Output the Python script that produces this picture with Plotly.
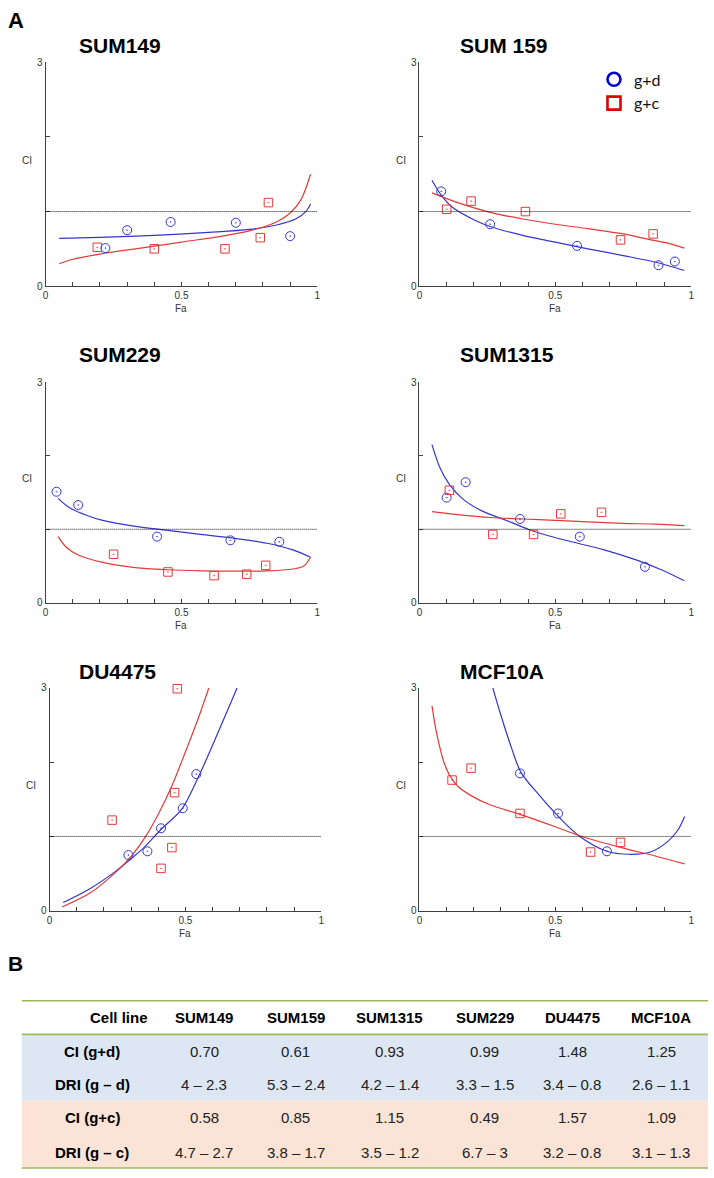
import plotly.graph_objects as go

# ---------------- data ----------------
panel_titles = ["SUM149", "SUM 159", "SUM229", "SUM1315", "DU4475", "MCF10A"]

# SUM149
sum149_gd_fa = [0.22, 0.30, 0.46, 0.70, 0.90]
sum149_gd_ci = [0.51, 0.75, 0.86, 0.85, 0.67]
sum149_gc_fa = [0.19, 0.40, 0.66, 0.79, 0.82]
sum149_gc_ci = [0.52, 0.50, 0.50, 0.65, 1.12]
sum149_gd_fit_fa = [0.05, 0.2, 0.4, 0.6, 0.75, 0.85, 0.92, 0.96, 0.975]
sum149_gd_fit_ci = [0.64, 0.655, 0.68, 0.72, 0.76, 0.82, 0.90, 1.01, 1.10]
sum149_gc_fit_fa = [0.05, 0.1, 0.2, 0.35, 0.5, 0.65, 0.75, 0.85, 0.9, 0.94, 0.975]
sum149_gc_fit_ci = [0.30, 0.36, 0.43, 0.51, 0.59, 0.67, 0.74, 0.86, 0.98, 1.16, 1.50]

# SUM159
sum159_gd_fa = [0.08, 0.26, 0.58, 0.88, 0.94]
sum159_gd_ci = [1.27, 0.83, 0.54, 0.28, 0.33]
sum159_gc_fa = [0.10, 0.19, 0.39, 0.74, 0.86]
sum159_gc_ci = [1.03, 1.14, 1.00, 0.62, 0.70]
sum159_gd_fit_fa = [0.046, 0.08, 0.12, 0.2, 0.26, 0.38, 0.5, 0.62, 0.75, 0.87, 0.975]
sum159_gd_fit_ci = [1.42, 1.22, 1.06, 0.89, 0.80, 0.68, 0.59, 0.50, 0.41, 0.32, 0.21]
sum159_gc_fit_fa = [0.046, 0.14, 0.26, 0.38, 0.5, 0.62, 0.75, 0.84, 0.92, 0.975]
sum159_gc_fit_ci = [1.25, 1.12, 0.99, 0.90, 0.83, 0.77, 0.70, 0.63, 0.57, 0.51]

# SUM229
sum229_gd_fa = [0.04, 0.12, 0.41, 0.68, 0.86]
sum229_gd_ci = [1.51, 1.33, 0.90, 0.85, 0.83]
sum229_gc_fa = [0.25, 0.45, 0.62, 0.74, 0.81]
sum229_gc_ci = [0.66, 0.42, 0.37, 0.39, 0.51]
sum229_gd_fit_fa = [0.046, 0.085, 0.15, 0.21, 0.33, 0.45, 0.57, 0.69, 0.815, 0.91, 0.975]
sum229_gd_fit_ci = [1.42, 1.30, 1.19, 1.12, 1.04, 0.985, 0.93, 0.88, 0.81, 0.72, 0.62]
sum229_gc_fit_fa = [0.046, 0.075, 0.12, 0.21, 0.33, 0.45, 0.57, 0.69, 0.815, 0.91, 0.95, 0.975]
sum229_gc_fit_ci = [0.90, 0.76, 0.65, 0.55, 0.48, 0.45, 0.435, 0.43, 0.435, 0.46, 0.50, 0.62]

# SUM1315
sum1315_gd_fa = [0.10, 0.17, 0.37, 0.59, 0.83]
sum1315_gd_ci = [1.43, 1.64, 1.14, 0.90, 0.49]
sum1315_gc_fa = [0.11, 0.27, 0.42, 0.52, 0.67]
sum1315_gc_ci = [1.53, 0.93, 0.93, 1.21, 1.23]
sum1315_gd_fit_fa = [0.046, 0.075, 0.11, 0.16, 0.23, 0.32, 0.40, 0.44, 0.56, 0.68, 0.8, 0.89, 0.975]
sum1315_gd_fit_ci = [2.15, 1.84, 1.61, 1.41, 1.25, 1.12, 1.00, 0.95, 0.83, 0.72, 0.58, 0.45, 0.30]
sum1315_gc_fit_fa = [0.046, 0.14, 0.26, 0.38, 0.5, 0.62, 0.75, 0.87, 0.975]
sum1315_gc_fit_ci = [1.24, 1.20, 1.16, 1.14, 1.12, 1.10, 1.08, 1.07, 1.05]

# DU4475
du4475_gd_fa = [0.29, 0.36, 0.41, 0.49, 0.54]
du4475_gd_ci = [0.75, 0.80, 1.11, 1.38, 1.84]
du4475_gc_fa = [0.23, 0.41, 0.45, 0.46, 0.47]
du4475_gc_ci = [1.22, 0.57, 0.85, 1.59, 2.99]
du4475_gd_fit_fa = [0.05, 0.15, 0.25, 0.30, 0.35, 0.414, 0.485, 0.55, 0.62, 0.69]
du4475_gd_fit_ci = [0.11, 0.30, 0.55, 0.70, 0.86, 1.11, 1.36, 1.82, 2.40, 3.0]
du4475_gc_fit_fa = [0.046, 0.15, 0.25, 0.30, 0.35, 0.40, 0.45, 0.50, 0.55, 0.586]
du4475_gc_fit_ci = [0.05, 0.24, 0.54, 0.73, 0.98, 1.30, 1.68, 2.14, 2.62, 3.0]

# MCF10A
mcf10a_gd_fa = [0.37, 0.51, 0.69]
mcf10a_gd_ci = [1.85, 1.31, 0.80]
mcf10a_gc_fa = [0.12, 0.19, 0.37, 0.63, 0.74]
mcf10a_gc_ci = [1.76, 1.92, 1.31, 0.79, 0.92]
mcf10a_gd_fit_fa = [0.27, 0.30, 0.34, 0.374, 0.44, 0.511, 0.59, 0.69, 0.77, 0.85, 0.91, 0.95, 0.976]
mcf10a_gd_fit_ci = [3.0, 2.63, 2.18, 1.86, 1.56, 1.27, 1.0, 0.80, 0.76, 0.79, 0.92, 1.08, 1.27]
mcf10a_gc_fit_fa = [0.046, 0.06, 0.075, 0.09, 0.11, 0.14, 0.19, 0.257, 0.367, 0.5, 0.59, 0.743, 0.864, 0.976]
mcf10a_gc_fit_ci = [2.76, 2.45, 2.20, 2.00, 1.83, 1.68, 1.55, 1.43, 1.30, 1.13, 1.01, 0.85, 0.74, 0.63]

additivity_ci = 1.0
fa_tick_vals = [0.0, 0.1, 0.2, 0.3, 0.4, 0.5, 0.6, 0.7, 0.8, 0.9, 1.0]
fa_tick_text = ["0", "", "", "", "", "0.5", "", "", "", "", "1"]
ci_tick_vals = [0, 1, 2, 3]
ci_tick_text = ["0", "", "", "3"]
legend_labels = ["g+d", "g+c"]

# Table (panel B)
table_header = ["SUM149", "SUM159", "SUM1315", "SUM229", "DU4475", "MCF10A"]
table_row_labels = ["CI (g+d)", "DRI (g \u2013 d)", "CI (g+c)", "DRI (g \u2013 c)"]
ci_gd_values = ["0.70", "0.61", "0.93", "0.99", "1.48", "1.25"]
dri_gd_values = ["4 \u2013 2.3", "5.3 \u2013 2.4", "4.2 \u2013 1.4", "3.3 \u2013 1.5", "3.4 \u2013 0.8", "2.6 \u2013 1.1"]
ci_gc_values = ["0.58", "0.85", "1.15", "0.49", "1.57", "1.09"]
dri_gc_values = ["4.7 \u2013 2.7", "3.8 \u2013 1.7", "3.5 \u2013 1.2", "6.7 \u2013 3", "3.2 \u2013 0.8", "3.1 \u2013 1.3"]

# ---------------- styling / layout ----------------
W, H = 714, 1178
BLUE = "#3535cc"
RED = "#e23a3a"
AXIS = "#404040"
FONT = "Arial, Liberation Sans, sans-serif"


def px(x):
    return x / W


def py(y):
    return 1 - y / H


panels = [
    (sum149_gd_fa, sum149_gd_ci, sum149_gc_fa, sum149_gc_ci,
     sum149_gd_fit_fa, sum149_gd_fit_ci, sum149_gc_fit_fa, sum149_gc_fit_ci),
    (sum159_gd_fa, sum159_gd_ci, sum159_gc_fa, sum159_gc_ci,
     sum159_gd_fit_fa, sum159_gd_fit_ci, sum159_gc_fit_fa, sum159_gc_fit_ci),
    (sum229_gd_fa, sum229_gd_ci, sum229_gc_fa, sum229_gc_ci,
     sum229_gd_fit_fa, sum229_gd_fit_ci, sum229_gc_fit_fa, sum229_gc_fit_ci),
    (sum1315_gd_fa, sum1315_gd_ci, sum1315_gc_fa, sum1315_gc_ci,
     sum1315_gd_fit_fa, sum1315_gd_fit_ci, sum1315_gc_fit_fa, sum1315_gc_fit_ci),
    (du4475_gd_fa, du4475_gd_ci, du4475_gc_fa, du4475_gc_ci,
     du4475_gd_fit_fa, du4475_gd_fit_ci, du4475_gc_fit_fa, du4475_gc_fit_ci),
    (mcf10a_gd_fa, mcf10a_gd_ci, mcf10a_gc_fa, mcf10a_gc_ci,
     mcf10a_gd_fit_fa, mcf10a_gd_fit_ci, mcf10a_gc_fit_fa, mcf10a_gc_fit_ci),
]

# pixel boxes of each plotting area: (left, right, top, bottom)
boxes = [
    (43, 317, 57, 283), (420, 694, 57, 283),
    (43, 317, 380, 603), (420, 694, 380, 603),
    (47, 321, 689, 914), (420, 694, 689, 914),
]
title_pos = [(75, 40), (459, 40), (75, 352), (459, 352), (75, 672), (459, 672)]

fig = go.Figure()
layout = dict(
    width=W, height=H, autosize=False,
    margin=dict(l=0, r=0, t=0, b=0),
    paper_bgcolor="white", plot_bgcolor="white",
    font=dict(family=FONT, color="#222"),
    showlegend=True,
    legend=dict(x=px(596), y=py(57), xanchor="left", yanchor="top",
                bgcolor="rgba(0,0,0,0)", font=dict(family="Lato, Open Sans, sans-serif", size=16, color="#111"),
                tracegroupgap=0, itemwidth=30),
)
shapes = []
annotations = []

for i, (data, box) in enumerate(zip(panels, boxes)):
    n = i + 1
    xa = "x" if n == 1 else f"x{n}"
    ya = "y" if n == 1 else f"y{n}"
    gd_fa, gd_ci, gc_fa, gc_ci, gdf_fa, gdf_ci, gcf_fa, gcf_ci = data
    l, r, t, b = box
    layout[f"xaxis{n}" if n > 1 else "xaxis"] = dict(
        domain=[px(l), px(r)], anchor=ya, range=[0, 1], showgrid=False, zeroline=False,
        showline=True, linecolor=AXIS, linewidth=1, ticks="inside", ticklen=4,
        tickcolor=AXIS, tickvals=fa_tick_vals, ticktext=fa_tick_text,
        tickfont=dict(family=FONT, size=10, color="#333"), fixedrange=True)
    layout[f"yaxis{n}" if n > 1 else "yaxis"] = dict(
        domain=[py(b), py(t)], anchor=xa, range=[0, 3], showgrid=False, zeroline=False,
        showline=True, linecolor=AXIS, linewidth=1, ticks="inside", ticklen=4,
        tickcolor=AXIS, tickvals=ci_tick_vals, ticktext=ci_tick_text,
        tickfont=dict(family=FONT, size=10, color="#333"), fixedrange=True)

    fig.add_trace(go.Scatter(x=gdf_fa, y=gdf_ci, mode="lines", line=dict(color=BLUE, width=1.2, shape="spline", smoothing=0.9),
                             xaxis=xa, yaxis=ya, showlegend=False, hoverinfo="skip"))
    fig.add_trace(go.Scatter(x=gcf_fa, y=gcf_ci, mode="lines", line=dict(color=RED, width=1.2, shape="spline", smoothing=0.9),
                             xaxis=xa, yaxis=ya, showlegend=False, hoverinfo="skip"))
    fig.add_trace(go.Scatter(x=gd_fa, y=gd_ci, mode="markers", cliponaxis=False,
                             marker=dict(symbol="circle-open-dot", size=9, color=BLUE, line=dict(width=1, color=BLUE)),
                             xaxis=xa, yaxis=ya, showlegend=False))
    fig.add_trace(go.Scatter(x=gc_fa, y=gc_ci, mode="markers", cliponaxis=False,
                             marker=dict(symbol="square-open-dot", size=8.5, color=RED, line=dict(width=1, color=RED)),
                             xaxis=xa, yaxis=ya, showlegend=False))

    shapes.append(dict(type="line", xref=xa, yref=ya, x0=0, x1=1, y0=additivity_ci, y1=additivity_ci,
                       line=dict(color="#111", width=1, dash="1px,1px")))

    tx, ty = title_pos[i]
    annotations.append(dict(text=f"<b>{panel_titles[i]}</b>", x=px(tx), y=py(ty), xref="paper", yref="paper",
                            xanchor="left", yanchor="middle", showarrow=False,
                            font=dict(family=FONT, size=21, color="black")))
    annotations.append(dict(text="CI", x=px(l - 19), y=py((t + b) / 2 - 14), xref="paper", yref="paper",
                            xanchor="center", yanchor="middle", showarrow=False,
                            font=dict(family=FONT, size=10, color="#333")))
    annotations.append(dict(text="Fa", x=px((l + r) / 2), y=py(b + 23), xref="paper", yref="paper",
                            xanchor="center", yanchor="middle", showarrow=False,
                            font=dict(family=FONT, size=10, color="#333")))

# legend (panel SUM 159)
fig.add_trace(go.Scatter(x=[None], y=[None], mode="markers", name=legend_labels[0],
                         marker=dict(symbol="circle-open", size=13, color="#0000cc", line=dict(width=2.6, color="#0000cc")),
                         xaxis="x2", yaxis="y2"))
fig.add_trace(go.Scatter(x=[None], y=[None], mode="markers", name=legend_labels[1],
                         marker=dict(symbol="square-open", size=13, color="#dd0000", line=dict(width=2.6, color="#dd0000")),
                         xaxis="x2", yaxis="y2"))

# panel letters
annotations.append(dict(text="<b>A</b>", x=px(3), y=py(15), xref="paper", yref="paper", xanchor="left",
                        yanchor="middle", showarrow=False, font=dict(family=FONT, size=22, color="black")))
annotations.append(dict(text="<b>B</b>", x=px(3), y=py(967), xref="paper", yref="paper", xanchor="left",
                        yanchor="middle", showarrow=False, font=dict(family=FONT, size=21, color="black")))

# ---------------- table B ----------------
tbl_left, tbl_right = 19, 711
line_top, line_head, fill_split, line_bottom = 1005, 1039, 1106, 1174
GREEN = "#9bbb59"
shapes.append(dict(type="rect", xref="paper", yref="paper", x0=px(tbl_left), x1=px(tbl_right),
                   y0=py(fill_split), y1=py(line_head), fillcolor="#dce7f3", line=dict(width=0), layer="below"))
shapes.append(dict(type="rect", xref="paper", yref="paper", x0=px(tbl_left), x1=px(tbl_right),
                   y0=py(line_bottom), y1=py(fill_split), fillcolor="#fbe3d6", line=dict(width=0), layer="below"))
for yl in (line_top, line_head, line_bottom):
    shapes.append(dict(type="line", xref="paper", yref="paper", x0=px(tbl_left), x1=px(tbl_right),
                       y0=py(yl), y1=py(yl), line=dict(color=GREEN, width=1.6)))

col_x = [203, 295, 390, 486, 574, 664]
label_x = 90
header_y = 1022
row_y = [1056, 1090, 1123, 1158]
row_values = [ci_gd_values, dri_gd_values, ci_gc_values, dri_gc_values]
tfont_b = dict(family=FONT, size=15, color="black")
tfont = dict(family=FONT, size=15, color="#222")

annotations.append(dict(text="<b>Cell line</b>", x=px(148), y=py(header_y), xref="paper", yref="paper",
                        xanchor="right", yanchor="middle", showarrow=False, font=tfont_b))
for cx, name in zip(col_x, table_header):
    annotations.append(dict(text=f"<b>{name}</b>", x=px(cx), y=py(header_y), xref="paper", yref="paper",
                            xanchor="center", yanchor="middle", showarrow=False, font=tfont_b))
for ry, lab, vals in zip(row_y, table_row_labels, row_values):
    annotations.append(dict(text=f"<b>{lab}</b>", x=px(label_x), y=py(ry), xref="paper", yref="paper",
                            xanchor="center", yanchor="middle", showarrow=False, font=tfont_b))
    for cx, v in zip(col_x, vals):
        annotations.append(dict(text=v, x=px(cx), y=py(ry), xref="paper", yref="paper",
                                xanchor="center", yanchor="middle", showarrow=False, font=tfont))

layout["shapes"] = shapes
layout["annotations"] = annotations
fig.update_layout(**layout)
fig.write_html(
    "out.html",
    config={"displayModeBar": False, "staticPlot": False},
    post_script="document.body.style.margin='0px';document.body.style.padding='0px';"
                "document.body.style.overflow='hidden';",
)
